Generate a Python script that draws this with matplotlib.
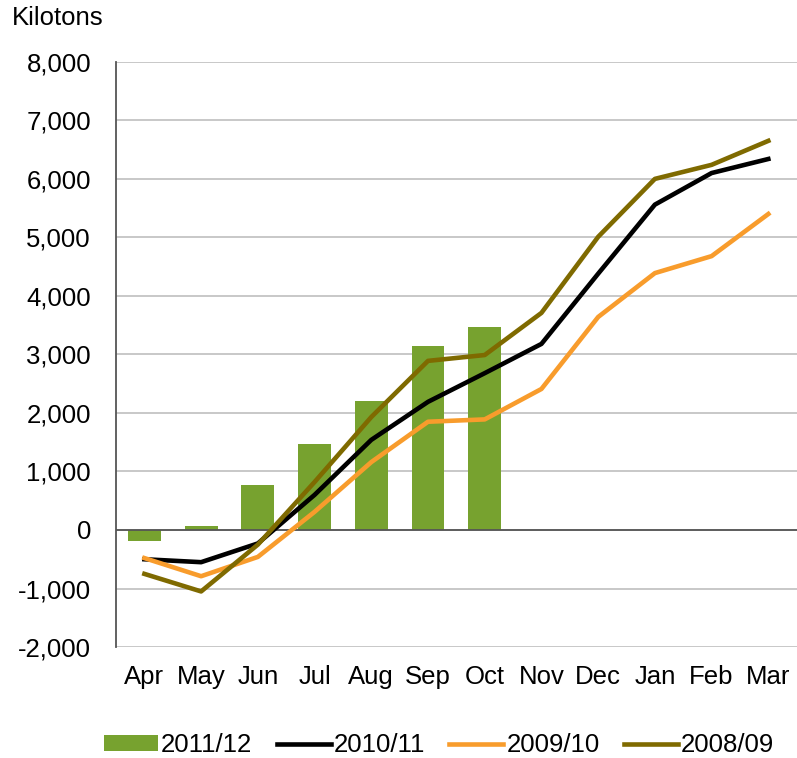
import matplotlib.pyplot as plt
import numpy as np

plt.rcParams['font.family'] = ['Liberation Sans', 'DejaVu Sans']

months = ['Apr', 'May', 'Jun', 'Jul', 'Aug', 'Sep', 'Oct', 'Nov', 'Dec', 'Jan', 'Feb', 'Mar']
# kilotons, cumulative
fy2011 = [-180, 70, 770, 1470, 2205, 3145, 3470]
fy2010 = [-500, -550, -230, 600, 1540, 2190, 2680, 3180, 4380, 5560, 6100, 6340]
fy2009 = [-480, -790, -460, 310, 1160, 1850, 1890, 2410, 3640, 4390, 4680, 5400]
fy2008 = [-750, -1050, -250, 820, 1930, 2890, 2990, 3710, 5010, 6000, 6240, 6650]

fs = 18.5

fig = plt.figure(figsize=(7.97, 7.58), dpi=100)
ax = fig.add_axes([0.1456, 0.1464, 0.854, 0.772])

x = np.arange(len(months))
bars = ax.bar(x[:len(fy2011)], fy2011, width=0.58, color='#77a22f', label='2011/12', zorder=2)
l1, = ax.plot(x, fy2010, color='black', lw=3.3, label='2010/11', zorder=3)
l2, = ax.plot(x, fy2009, color='#f89c2c', lw=3.3, label='2009/10', zorder=3)
l3, = ax.plot(x, fy2008, color='#7f6a00', lw=3.3, label='2008/09', zorder=4)

ax.set_xlim(-0.5, 11.5)
ax.set_ylim(-2000, 8000)
ax.set_yticks(range(-2000, 8001, 1000))
ax.set_yticklabels([f'{v:,}' for v in range(-2000, 8001, 1000)])
ax.set_xticks(x)
ax.set_xticklabels(months)
ax.tick_params(axis='both', length=0, labelsize=fs, colors='black')
ax.tick_params(axis='x', pad=13)
ax.tick_params(axis='y', pad=18)

ax.grid(axis='y', color='#c4c4c4', lw=1.3, zorder=0)
ax.axhline(0, color='#555555', lw=1.3, zorder=2.5)
for s in ['top', 'right', 'bottom']:
    ax.spines[s].set_visible(False)
ax.spines['left'].set_color('#555555')
ax.spines['left'].set_linewidth(1.3)

fig.text(0.015, 0.976, 'Kilotons', fontsize=fs, ha='left', va='center')

fig.legend(handles=[bars, l1, l2, l3], loc='center', bbox_to_anchor=(0.551, 0.017), ncol=4,
           frameon=False, fontsize=fs, handlelength=2.1, handleheight=0.55,
           handletextpad=0.12, columnspacing=0.95, borderpad=0)

fig.savefig('out.png', dpi=100, facecolor='white')
